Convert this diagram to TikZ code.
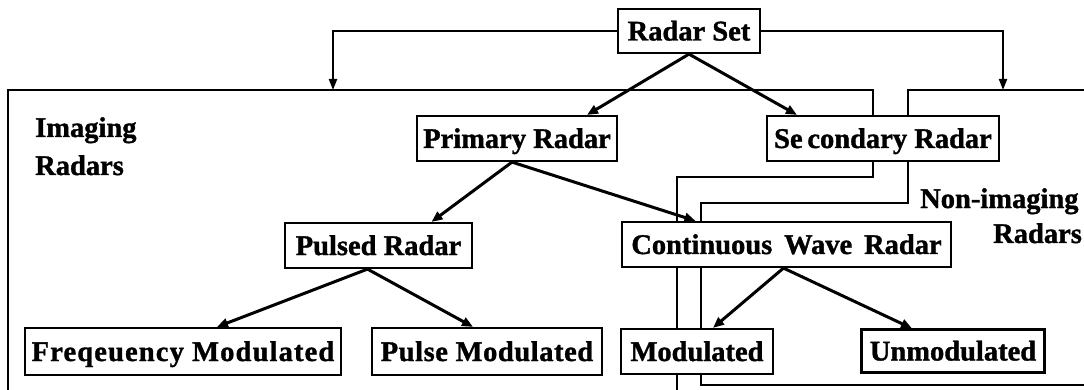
\documentclass[tikz,border=0pt]{standalone}
\usepackage{fontspec}
\setmainfont{Liberation Serif}[BoldFeatures={FakeBold=1.2}]
\usetikzlibrary{arrows.meta}
\begin{document}
\begin{tikzpicture}[x=1pt,y=-1pt,
  every node/.style={font=\fontsize{28.5}{32}\selectfont\bfseries},
  boxnode/.style={draw=black,line width=2.2pt,fill=white,inner sep=0pt,
    text height=19pt,text depth=0pt,anchor=center},
  lbl/.style={inner sep=0pt,anchor=base west},
  region/.style={line width=2pt,line join=miter},
  arr/.style={line width=3pt,-{Triangle[length=11pt,width=9pt]}},
  tarr/.style={line width=2pt,-{Triangle[length=11pt,width=8pt]}}]
\useasboundingbox (0,0) rectangle (1084,390);
% regions
\draw[region] (8,391) -- (8,90) -- (873,90) -- (873,177) -- (677,177) -- (677,391);
\draw[region] (1086,90) -- (908,90) -- (908,203) -- (701,203) -- (701,385) -- (1086,385);
\coordinate (ia) at (333,90);
\coordinate (na) at (1003,90);
% nodes
\node[boxnode,minimum width=142pt,minimum height=44pt] (rs) at (689,31) {Radar Set};
\node[boxnode,minimum width=200pt,minimum height=45pt] (pr) at (517,138.5) {Primary Radar};
\node[boxnode,minimum width=232pt,minimum height=45pt] (sr) at (883,138.5) {Se\,condary Radar};
\node[boxnode,minimum width=187pt,minimum height=45pt] (pu) at (378.5,245.5) {Pulsed Radar};
\node[boxnode,minimum width=329pt,minimum height=45pt] (cw) at (786.5,244.5) {Continuous\, Wave\, Radar};
\node[boxnode,minimum width=316pt,minimum height=47pt] (fm) at (183,351.5) {\addfontfeature{LetterSpace=4}Freqeuency Modulated};
\node[boxnode,minimum width=230pt,minimum height=47pt] (pm) at (487,351.5) {\addfontfeature{LetterSpace=2}Pulse Modulated};
\node[boxnode,minimum width=152pt,minimum height=45pt] (mo) at (697,351.5) {Modulated};
\node[boxnode,minimum width=183pt,minimum height=43pt] (um) at (953,351) {Unmodulated};
% labels
\node[lbl] (l1) at (35,137) {Imaging};
\node[lbl] (l2) at (35,175) {Radars};
\node[lbl] (l3) at (920,208) {Non-imaging};
\node[lbl] (l4) at (993,243) {Radars};
% connectors
\draw[tarr] (rs.west) -| (ia);
\draw[tarr] (rs.east) -| (na);
\draw[arr] (rs.south) -- ([xshift=70pt]pr.north);
\draw[arr] (rs.south) -- ([xshift=-86pt]sr.north);
\draw[arr] ([xshift=-5pt]pr.south) -- ([xshift=53pt]pu.north);
\draw[arr] ([xshift=-5pt]pr.south) -- ([xshift=-91pt]cw.north);
\draw[arr] ([xshift=-11pt]pu.south) -- ([xshift=34pt]fm.north);
\draw[arr] ([xshift=-11pt]pu.south) -- ([xshift=-14pt]pm.north);
\draw[arr] ([xshift=-3pt]cw.south) -- ([xshift=16pt]mo.north);
\draw[arr] ([xshift=-3pt]cw.south) -- ([xshift=-41pt]um.north);
\end{tikzpicture}
\end{document}
